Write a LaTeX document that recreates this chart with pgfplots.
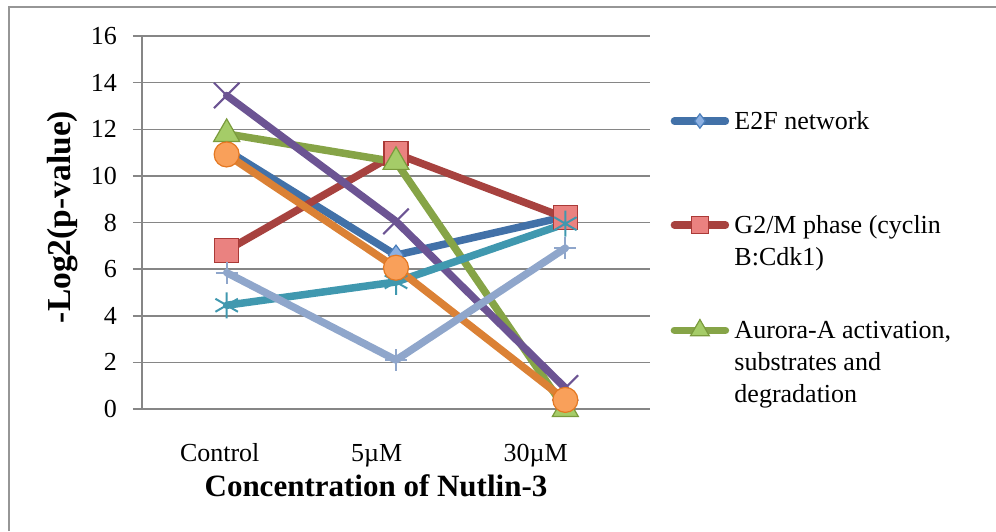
\documentclass[border=0pt]{standalone}
\usepackage{pgfplots}
\pgfplotsset{compat=1.18}
\usepackage{fontspec}
\setmainfont{Liberation Serif}
\definecolor{gridc}{RGB}{134,134,134}
\definecolor{framec}{RGB}{150,150,150}
\definecolor{E2Fl}{RGB}{66,113,168}
\definecolor{E2Fm}{RGB}{140,176,226}
\definecolor{E2Fb}{RGB}{74,126,187}
\definecolor{G2Ml}{RGB}{167,66,63}
\definecolor{G2Mm}{RGB}{234,130,128}
\definecolor{G2Mb}{RGB}{170,58,55}
\definecolor{AURl}{RGB}{134,164,71}
\definecolor{AURm}{RGB}{165,204,104}
\definecolor{AURb}{RGB}{122,155,60}
\definecolor{PURl}{RGB}{108,84,147}
\definecolor{TEAl}{RGB}{64,152,175}
\definecolor{ORAl}{RGB}{219,129,53}
\definecolor{ORAm}{RGB}{249,160,90}
\definecolor{ORAb}{RGB}{228,120,34}
\definecolor{LBLl}{RGB}{143,166,203}
\begin{document}
\begin{tikzpicture}
\path[use as bounding box] (0pt,0pt) rectangle (996pt,531pt);
\draw[framec, line width=1.2pt] (9pt,0pt) -- (9pt,524pt) -- (996pt,524pt);
\begin{axis}[
  at={(142pt,122pt)}, anchor=south west,
  scale only axis, width=508pt, height=373pt,
  xmin=-0.5, xmax=2.5, ymin=0, ymax=16,
  clip=false,
  ytick={0,2,4,6,8,10,12,14,16},
  xtick={-0.041,0.886,1.825},
  xticklabels={Control,5µM,30µM},
  axis x line*=bottom, axis y line*=left,
  x axis line style={-, draw=gridc, line width=1.5pt},
  y axis line style={-, draw=gridc, line width=1.5pt},
  ymajorgrids, grid style={draw=gridc, line width=1.5pt},
  x tick style={draw=none},
  y tick style={draw=gridc, line width=1.5pt},
  tick align=outside, major tick length=9pt,
  tick label style={font=\fontsize{26}{31}\selectfont},
  /pgf/number format/assume math mode=true,
  yticklabel style={anchor=east, inner sep=0pt, xshift=-16pt},
  xticklabel style={anchor=base, inner sep=0pt, yshift=-43.7pt},
  xlabel={\textbf{Concentration of Nutlin-3}},
  xlabel style={at={(axis description cs:0.4606,-0.2046)}, anchor=center, inner sep=0pt, font=\fontsize{31}{36}\selectfont},
  ylabel={\textbf{-Log2(p-value)}},
  ylabel style={at={(axis description cs:-0.1555,0.5147)}, anchor=center, inner sep=0pt, font=\fontsize{33.5}{38}\selectfont},
  legend style={at={(axis description cs:1.0407,0.7976)}, anchor=north west, draw=none, fill=none, inner sep=0pt, outer sep=0pt, row sep=0pt, column sep=5.3pt, font=\fontsize{26}{32}\selectfont, cells={anchor=base west}, nodes={inner sep=0pt, text depth=}},
  legend image code/.code={\draw[mark repeat=2,mark phase=2,#1] plot coordinates {(0pt,8.5pt) (25.5pt,8.5pt) (51pt,8.5pt)};},
  legend image post style={every mark/.append style={scale=0.72}},
  every axis plot/.append style={line width=7.5pt, line join=round, line cap=round},
]
\addplot[color=E2Fl, mark=diamond*, mark size=10pt, mark options={fill=E2Fm, draw=E2Fb, line width=1.2pt, line join=miter}]
  coordinates {(0,11.1) (1,6.6) (2,8.25)};
\addlegendentry{\vtop to 104pt{\hbox{E2F network}\vss}}
\addplot[color=G2Ml, mark=square*, mark size=12pt, mark options={fill=G2Mm, draw=G2Mb, line width=1.2pt, line join=miter}]
  coordinates {(0,6.8) (1,10.95) (2,8.2)};
\addlegendentry{\vtop to 104pt{\hbox{G2/M phase (cyclin}\hbox{B:Cdk1)}\vss}}
\addplot[color=AURl, mark=triangle*, mark size=15pt, mark options={fill=AURm, draw=AURb, line width=1.2pt, line join=miter}]
  coordinates {(0,11.8) (1,10.6) (2,0)};
\addlegendentry{\vtop to 104pt{\hbox{Aurora-A activation,}\hbox{substrates and}\hbox{degradation}\vss}}
\addplot[forget plot, color=PURl, mark=x, mark size=18pt, mark options={line width=2pt, line cap=butt}]
  coordinates {(0,13.45) (1,8.05) (2,0.9)};
\addplot[forget plot, color=TEAl, mark=asterisk, mark size=13pt, mark options={line width=2pt, line cap=butt}]
  coordinates {(0,4.45) (1,5.45) (2,7.95)};
\addplot[forget plot, color=ORAl, mark=*, mark size=12.5pt, mark options={fill=ORAm, draw=ORAb, line width=1.2pt}]
  coordinates {(0,10.92) (1,6.06) (2,0.39)};
\addplot[forget plot, color=LBLl, mark=+, mark size=11pt, mark options={line width=2pt, line cap=butt}]
  coordinates {(0,5.85) (1,2.1) (2,6.9)};
\end{axis}
\end{tikzpicture}
\end{document}
